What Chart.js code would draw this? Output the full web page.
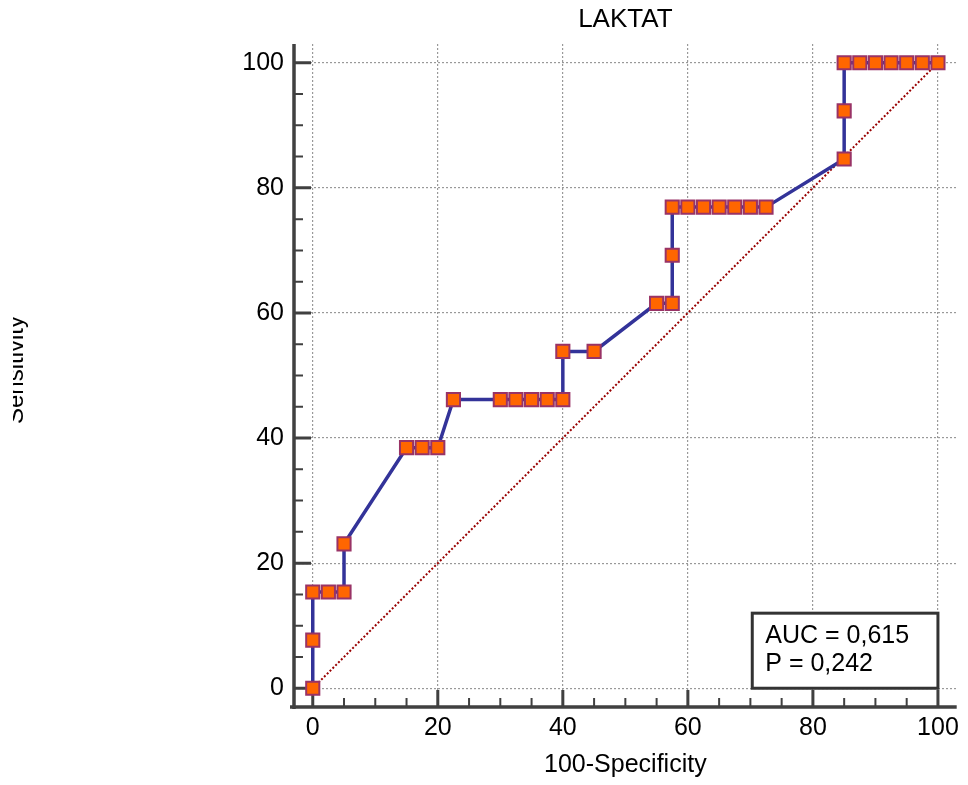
<!DOCTYPE html>
<html>
<head>
<meta charset="utf-8">
<script src="https://cdn.jsdelivr.net/npm/chart.js@4.4.0/dist/chart.umd.min.js"></script>
<style>
  html, body { margin: 0; padding: 0; background: #fff; }
  #wrap { width: 968px; height: 785px; }
</style>
</head>
<body>
<div id="wrap"><canvas id="roc" width="968" height="785"></canvas></div>
<script>
// ROC curve points (100-Specificity, Sensitivity)
const specificity = [0, 0, 0, 2.5, 5, 5, 15, 17.5, 20, 22.5, 30, 32.5, 35, 37.5, 40, 40, 45, 55, 57.5, 57.5,
  57.5, 60, 62.5, 65, 67.5, 70, 72.5, 85, 85, 85, 87.5, 90, 92.5, 95, 97.5, 100];
const sensitivity = [0, 7.69, 15.38, 15.38, 15.38, 23.08, 38.46, 38.46, 38.46, 46.15, 46.15, 46.15, 46.15, 46.15,
  46.15, 53.85, 53.85, 61.54, 61.54, 69.23, 76.92, 76.92, 76.92, 76.92, 76.92, 76.92, 76.92, 84.62, 92.31,
  100, 100, 100, 100, 100, 100, 100];

// reference diagonal
const diagX = [0, 100];
const diagY = [0, 100];

const majorTicks = [0, 20, 40, 60, 80, 100];
const minorStep = 5;

const titleText = 'LAKTAT';
const xTitle = '100-Specificity';
const yTitle = 'Sensitivity';
const statLines = ['AUC = 0,615', 'P = 0,242'];

const FONT = "'Liberation Sans', Arial, sans-serif";
const axisColor = '#404040';

const toPoints = (xs, ys) => xs.map((x, i) => ({ x: x, y: ys[i] }));

const decorPlugin = {
  id: 'decor',
  beforeDatasetsDraw(chart) {
    const ctx = chart.ctx;
    const xs = chart.scales.x, ys = chart.scales.y;
    const a = chart.chartArea;
    ctx.save();
    ctx.strokeStyle = axisColor;
    // axis lines
    ctx.lineWidth = 3.5;
    ctx.beginPath();
    ctx.moveTo(a.left, a.top);
    ctx.lineTo(a.left, a.bottom + 2);
    ctx.moveTo(a.left - 4, a.bottom);
    ctx.lineTo(a.right, a.bottom);
    ctx.stroke();
    // inward ticks
    for (let v = 0; v <= 100; v += minorStep) {
      const major = majorTicks.includes(v);
      const len = major ? 17 : 9;
      ctx.lineWidth = major ? 3 : 2;
      const px = xs.getPixelForValue(v);
      const py = ys.getPixelForValue(v);
      ctx.beginPath();
      ctx.moveTo(px, a.bottom);
      ctx.lineTo(px, a.bottom - len);
      ctx.moveTo(a.left, py);
      ctx.lineTo(a.left + len, py);
      ctx.stroke();
    }
    ctx.restore();
  },
  afterDraw(chart) {
    const ctx = chart.ctx;
    const xs = chart.scales.x, ys = chart.scales.y;
    const a = chart.chartArea;
    const cx = (a.left + a.right) / 2;
    ctx.save();
    ctx.fillStyle = '#000';
    ctx.textAlign = 'center';
    ctx.textBaseline = 'alphabetic';
    ctx.font = '26px ' + FONT;
    ctx.fillText(titleText, cx, 27);
    ctx.font = '25px ' + FONT;
    ctx.fillText(xTitle, cx, 772);

    // y title, cut at the left edge like the original
    ctx.save();
    ctx.beginPath();
    ctx.rect(13, 0, 200, chart.height);
    ctx.clip();
    ctx.translate(23, 370);
    ctx.rotate(-Math.PI / 2);
    ctx.font = '24px ' + FONT;
    ctx.fillText(yTitle, 0, 0);
    ctx.restore();

    // AUC box
    const bl = xs.getPixelForValue(70.3);
    const br = xs.getPixelForValue(100);
    const bt = ys.getPixelForValue(12);
    const bb = ys.getPixelForValue(0);
    ctx.fillStyle = '#fff';
    ctx.fillRect(bl, bt, br - bl, bb - bt);
    ctx.strokeStyle = '#333';
    ctx.lineWidth = 3;
    ctx.strokeRect(bl, bt, br - bl, bb - bt);
    ctx.fillStyle = '#000';
    ctx.textAlign = 'left';
    ctx.font = '25px ' + FONT;
    ctx.fillText(statLines[0], bl + 13, bt + 30);
    ctx.fillText(statLines[1], bl + 13, bt + 58);
    ctx.restore();
  }
};

const fixTicks = scale => { scale.ticks = majorTicks.map(v => ({ value: v })); };

new Chart(document.getElementById('roc'), {
  type: 'scatter',
  data: {
    datasets: [{
      data: toPoints(specificity, sensitivity),
      showLine: true,
      tension: 0,
      borderColor: '#333399',
      borderWidth: 3.5,
      pointStyle: 'rect',
      pointRadius: 9.3,
      pointBackgroundColor: '#ff6600',
      pointBorderColor: '#993366',
      pointBorderWidth: 2
    }, {
      data: toPoints(diagX, diagY),
      showLine: true,
      borderColor: '#990000',
      borderWidth: 2,
      borderDash: [2, 2],
      pointRadius: 0
    }]
  },
  options: {
    responsive: false,
    animation: false,
    layout: { padding: { left: 0, right: 10, top: 44, bottom: 0 } },
    plugins: {
      legend: { display: false },
      title: { display: false },
      tooltip: { enabled: false }
    },
    scales: {
      x: {
        type: 'linear',
        min: -3,
        max: 103,
        afterBuildTicks: fixTicks,
        afterFit: s => { s.height = 78; },
        grid: { color: '#999', lineWidth: 1.2, drawTicks: false },
        border: { display: false, dash: [2, 2] },
        ticks: { color: '#000', padding: 6, font: { size: 25, family: FONT } }
      },
      y: {
        type: 'linear',
        min: -3,
        max: 103,
        afterBuildTicks: fixTicks,
        afterFit: s => { s.width = 294; },
        grid: { color: '#999', lineWidth: 1.2, drawTicks: false },
        border: { display: false, dash: [2, 2] },
        ticks: { color: '#000', padding: 10, font: { size: 25, family: FONT } }
      }
    }
  },
  plugins: [decorPlugin]
});
</script>
</body>
</html>
